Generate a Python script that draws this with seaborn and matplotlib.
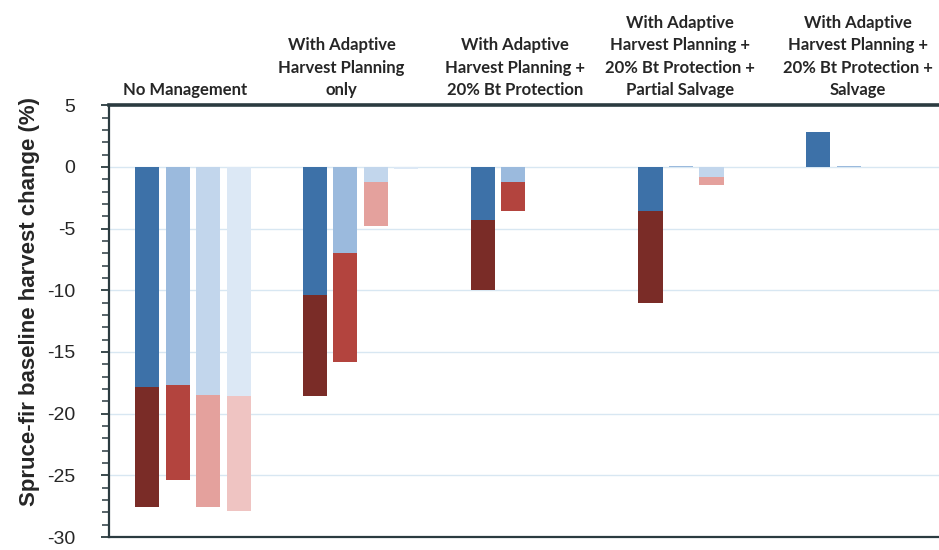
import pandas as pd
import seaborn as sns
import matplotlib.pyplot as plt
from matplotlib.ticker import MultipleLocator

# scenario names (top labels)
scenarios = ["No Management",
             "With Adaptive\nHarvest Planning\nonly",
             "With Adaptive\nHarvest Planning +\n20% Bt Protection",
             "With Adaptive\nHarvest Planning +\n20% Bt Protection +\nPartial Salvage",
             "With Adaptive\nHarvest Planning +\n20% Bt Protection +\nSalvage"]
series = ["S1", "S2", "S3", "S4"]

# blue part of each bar (one list per series, one value per scenario)
blue_s1 = [-17.8, -10.4, -4.3, -3.6, 2.85]
blue_s2 = [-17.7, -7.0, -1.25, 0.1, 0.1]
blue_s3 = [-18.5, -1.25, 0.0, -0.85, 0.0]
blue_s4 = [-18.6, -0.15, 0.0, 0.0, 0.0]

# total (blue + red) of each bar
total_s1 = [-27.6, -18.6, -10.0, -11.05, 2.85]
total_s2 = [-25.4, -15.8, -3.55, 0.1, 0.1]
total_s3 = [-27.6, -4.75, 0.0, -1.5, 0.0]
total_s4 = [-27.9, -0.15, 0.0, 0.0, 0.0]

blues = ["#3d71a8", "#9bbadd", "#c2d6ec", "#dce8f5"]
reds = ["#7a2c27", "#b3443e", "#e4a19d", "#efc4c2"]

rows = []
for s, b, t in zip(series, [blue_s1, blue_s2, blue_s3, blue_s4],
                   [total_s1, total_s2, total_s3, total_s4]):
    for sc, bv, tv in zip(scenarios, b, t):
        rows.append({"scenario": sc, "series": s, "blue": bv, "total": tv})
df = pd.DataFrame(rows)

sns.set_style("white")
plt.rcParams['font.family'] = ['Liberation Sans', 'DejaVu Sans']
plt.rcParams['axes.unicode_minus'] = False

fig = plt.figure(figsize=(9.39, 5.5), dpi=100)
ax = fig.add_axes([0.116, 0.0236, 0.8935, 0.785])

ax.yaxis.grid(True, color="#d8e7f2", linewidth=1)
ax.set_axisbelow(True)

# red = full bar, blue drawn over it from zero
sns.barplot(data=df, x="scenario", y="total", hue="series", order=scenarios,
            hue_order=series, palette=reds, width=0.727, gap=0.21, saturation=1,
            linewidth=0, legend=False, errorbar=None, ax=ax)
sns.barplot(data=df, x="scenario", y="blue", hue="series", order=scenarios,
            hue_order=series, palette=blues, width=0.727, gap=0.21, saturation=1,
            linewidth=0, legend=False, errorbar=None, ax=ax)

ax.set_ylim(-30, 5)
ax.set_xlim(-0.5, 4.5)
ax.yaxis.set_major_locator(MultipleLocator(5))
ax.yaxis.set_minor_locator(MultipleLocator(1))

# labels sit a little left of the bar groups, as in the original
label_shift = [-8, -19, -13, -16, -6]
ax.set_xticks([i + dx / 167.75 for i, dx in enumerate(label_shift)])
ax.set_xticklabels(scenarios, fontsize=12, fontweight="bold",
                   family=["Lato", "DejaVu Sans"], linespacing=1.5, va="bottom")
ax.tick_params(axis="x", top=True, labeltop=True, bottom=False, labelbottom=False,
               length=0, pad=5)

ax.tick_params(axis="y", which="major", direction="out", length=6, width=1.3,
               color="#2b3b40", labelsize=14, pad=18, left=True)
ax.tick_params(axis="y", which="minor", direction="out", length=5, width=1.1,
               color="#2b3b40", left=True)

ax.set_xlabel("")
ax.set_ylabel("Spruce-fir baseline harvest change (%)", fontsize=16,
              fontweight="bold")
ax.yaxis.set_label_coords(-0.082, 0.545)

ax.spines["right"].set_visible(False)
ax.spines["left"].set_color("#2b3b40")
ax.spines["left"].set_linewidth(1.6)
ax.spines["bottom"].set_color("#2b3b40")
ax.spines["bottom"].set_linewidth(1.6)
ax.spines["top"].set_color("#2b3b40")
ax.spines["top"].set_linewidth(2.6)

fig.savefig("out.png", dpi=100)
